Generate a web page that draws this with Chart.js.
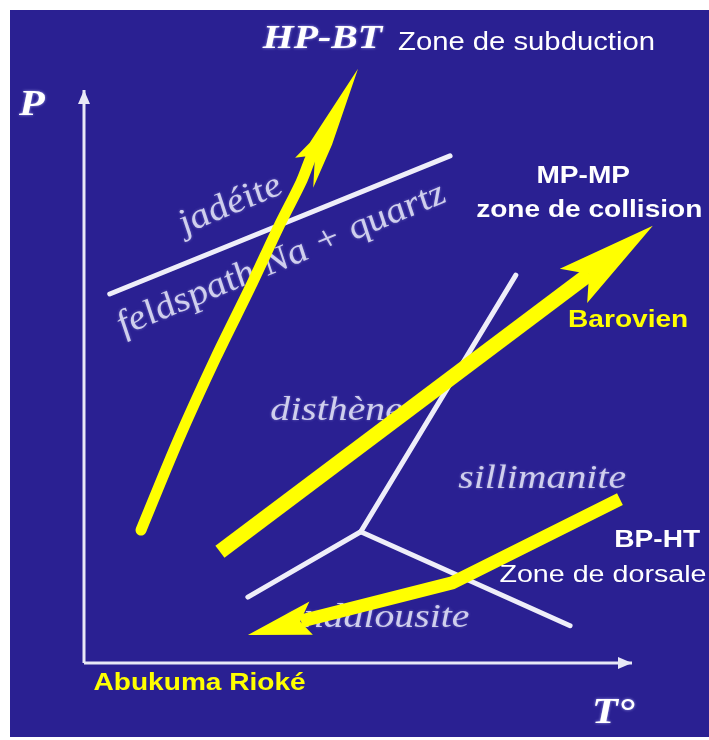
<!DOCTYPE html>
<html>
<head>
<meta charset="utf-8">
<script src="https://cdn.jsdelivr.net/npm/chart.js@4.4.1/dist/chart.umd.min.js"></script>
<style>
  html, body { margin: 0; padding: 0; background: #fff; }
  canvas { display: block; }
</style>
</head>
<body>
<canvas id="diagram" width="709" height="740"></canvas>
<script>
// axes (T in x, P in y, 0..100 arbitrary units)
const tAxis = [{x: 0, y: 0}, {x: 100, y: 0}];
const pAxis = [{x: 0, y: 0}, {x: 0, y: 100}];

// reaction lines
const jadeiteLine = [{x: 4.7, y: 64.4}, {x: 66.8, y: 88.5}];
const kyaniteSillimanite = [{x: 50.5, y: 22.9}, {x: 78.8, y: 67.7}];
const kyaniteAndalusite = [{x: 29.9, y: 11.5}, {x: 50.5, y: 22.9}];
const andalusiteSillimanite = [{x: 50.5, y: 22.9}, {x: 88.7, y: 6.5}];

// gradient paths, last point = arrow tip
const pathHPBT = [
  {x: 10.4, y: 23.2}, {x: 17.2, y: 38.9}, {x: 24.1, y: 53.4}, {x: 30.3, y: 65.5},
  {x: 35.6, y: 76.3}, {x: 39.6, y: 83.9}, {x: 41.2, y: 87.8}, {x: 50.0, y: 103.7}
];
const pathMPMP = [{x: 24.8, y: 19.4}, {x: 92.2, y: 67.9}, {x: 103.8, y: 76.3}];
const pathBPHT = [{x: 97.8, y: 28.6}, {x: 67.2, y: 14.0}, {x: 39.6, y: 7.3}, {x: 29.9, y: 4.9}];

// text
const fieldNames = ['jadéite', 'feldspath Na + quartz', 'disthène', 'sillimanite', 'andalousite'];
const gradientNames = ['HP-BT', 'MP-MP', 'BP-HT'];
const zoneNames = ['Zone de subduction', 'zone de collision', 'Zone de dorsale'];
const typeNames = ['Barovien', 'Abukuma Rioké'];
const axisNames = ['P', 'T°'];

const STRETCH = 1.17; // source picture is stretched horizontally
const SERIF = '"Liberation Serif", "Times New Roman", serif';
const SANS = '"Liberation Sans", Arial, sans-serif';
const YELLOW = '#ffff00';
const MINERAL = 'rgba(218,218,242,0.92)';
const MINERAL_GLOW = 'rgba(200,200,255,0.45)';

const underLabels = [
  {text: fieldNames[0], at: [27.6, 78.5], rot: -25.9, font: 'italic 35px ' + SERIF, color: MINERAL, glow: MINERAL_GLOW},
  {text: fieldNames[1], at: [36.9, 68.9], rot: -25.9, font: 'italic 35px ' + SERIF, color: MINERAL, glow: MINERAL_GLOW},
  {text: fieldNames[2], at: [46.1, 42.4], font: 'italic 34px ' + SERIF, color: MINERAL, glow: MINERAL_GLOW},
  {text: fieldNames[3], at: [83.6, 30.5], font: 'italic 34px ' + SERIF, color: MINERAL, glow: MINERAL_GLOW},
  {text: fieldNames[4], at: [53.4, 6.3], font: 'italic 34px ' + SERIF, color: MINERAL, glow: MINERAL_GLOW}
];
const overLabels = [
  {text: axisNames[0], at: [-9.5, 95.6], font: 'bold italic 36px ' + SERIF, color: '#fff', glow: 'rgba(190,190,255,0.8)'},
  {text: axisNames[1], at: [96.6, -10.5], font: 'bold italic 36px ' + SERIF, color: '#fff', glow: 'rgba(190,190,255,0.8)'},
  {text: gradientNames[0], at: [43.5, 107.3], font: 'bold italic 34px ' + SERIF, color: '#fff', glow: 'rgba(190,190,255,0.8)'},
  {text: zoneNames[0], at: [57.3, 107.0], align: 'left', font: '25px ' + SANS, color: '#fff'},
  {text: gradientNames[1], at: [91.1, 83.8], font: 'bold 24px ' + SANS, color: '#fff'},
  {text: zoneNames[1], at: [92.2, 77.8], font: 'bold 24px ' + SANS, color: '#fff'},
  {text: typeNames[0], at: [99.3, 58.6], font: 'bold 24px ' + SANS, color: YELLOW},
  {text: gradientNames[2], at: [104.6, 20.2], font: 'bold 24px ' + SANS, color: '#fff'},
  {text: zoneNames[2], at: [94.7, 14.1], font: '24.5px ' + SANS, color: '#fff'},
  {text: typeNames[1], at: [21.1, -4.7], font: 'bold 24px ' + SANS, color: YELLOW}
];

// arrow heads: [u, v] in px, u along the last segment (0 = tip), v across it
const heads = [
  {path: pathHPBT, color: YELLOW, shape: [[0, 0], [-79, 12.5], [-126, 16], [-101, 4.5], [-102.5, -6], [-108, -14], [-88, -8]]},
  {path: pathMPMP, color: YELLOW, shape: [[0, 0], [-100, -22], [-80, 0], [-99, 22]]},
  {path: pathBPHT, color: YELLOW, shape: [[0, 0], [-68, 17], [-54, 0], [-63, -16]]},
  {path: tAxis, color: '#e8e8f6', shape: [[0, 0], [-14, -6], [-14, 6]]},
  {path: pAxis, color: '#e8e8f6', shape: [[0, 0], [-14, -6], [-14, 6]]}
];

function px(chart, p) {
  return {x: chart.scales.x.getPixelForValue(p.x), y: chart.scales.y.getPixelForValue(p.y)};
}

function drawLabel(ctx, chart, l) {
  const p = px(chart, {x: l.at[0], y: l.at[1]});
  ctx.save();
  ctx.translate(p.x, p.y);
  ctx.scale(STRETCH, 1);
  if (l.rot) ctx.rotate(l.rot * Math.PI / 180);
  ctx.font = l.font;
  ctx.fillStyle = l.color;
  ctx.textAlign = l.align || 'center';
  ctx.textBaseline = 'alphabetic';
  if (l.glow) { ctx.shadowColor = l.glow; ctx.shadowBlur = 3; }
  ctx.fillText(l.text, 0, 0);
  ctx.restore();
}

function drawHead(ctx, chart, h) {
  const n = h.path.length;
  const tip = px(chart, h.path[n - 1]);
  const from = px(chart, h.path[n - 2]);
  const len = Math.hypot(tip.x - from.x, tip.y - from.y);
  const ux = (tip.x - from.x) / len, uy = (tip.y - from.y) / len;
  const vx = -uy, vy = ux;
  ctx.save();
  ctx.fillStyle = h.color;
  ctx.beginPath();
  h.shape.forEach(([u, v], i) => {
    const x = tip.x + u * ux + v * vx, y = tip.y + u * uy + v * vy;
    if (i === 0) ctx.moveTo(x, y); else ctx.lineTo(x, y);
  });
  ctx.closePath();
  ctx.fill();
  ctx.restore();
}

const diagramPlugin = {
  id: 'diagram',
  beforeDraw(chart) {
    const ctx = chart.ctx;
    ctx.save();
    ctx.fillStyle = '#ffffff';
    ctx.fillRect(0, 0, chart.width, chart.height);
    ctx.fillStyle = '#2a2092';
    ctx.fillRect(10, 10, chart.width - 10, chart.height - 13);
    ctx.restore();
  },
  beforeDatasetsDraw(chart) {
    underLabels.forEach(l => drawLabel(chart.ctx, chart, l));
  },
  afterDatasetsDraw(chart) {
    heads.forEach(h => drawHead(chart.ctx, chart, h));
    overLabels.forEach(l => drawLabel(chart.ctx, chart, l));
  }
};

function line(data, color, width, order, extra) {
  return Object.assign({
    data, showLine: true, borderColor: color, borderWidth: width,
    pointRadius: 0, tension: 0, order, borderCapStyle: 'round', borderJoinStyle: 'round'
  }, extra || {});
}

const WHITE = '#eeeef9';

new Chart(document.getElementById('diagram'), {
  type: 'scatter',
  data: {
    datasets: [
      line(jadeiteLine, WHITE, 5, 6),
      line(kyaniteSillimanite, WHITE, 5, 6),
      line(kyaniteAndalusite, WHITE, 5, 6),
      line(andalusiteSillimanite, WHITE, 5, 6),
      line(tAxis, '#e8e8f6', 3, 5, {borderCapStyle: 'butt'}),
      line(pAxis, '#e8e8f6', 3, 5, {borderCapStyle: 'butt'}),
      line(pathHPBT.slice(0, -1), YELLOW, 11, 1, {tension: 0.3}),
      line(pathMPMP.slice(0, -1), YELLOW, 15, 1, {borderCapStyle: 'butt'}),
      line(pathBPHT.slice(0, -1), YELLOW, 13, 1, {borderCapStyle: 'butt', borderJoinStyle: 'miter'})
    ]
  },
  options: {
    responsive: false,
    animation: false,
    events: [],
    layout: {padding: 0},
    plugins: {legend: {display: false}, tooltip: {enabled: false}},
    scales: {
      x: {type: 'linear', display: false, min: -15.33, max: 114.05},
      y: {type: 'linear', display: false, min: -13.44, max: 115.71}
    }
  },
  plugins: [diagramPlugin]
});
</script>
</body>
</html>
